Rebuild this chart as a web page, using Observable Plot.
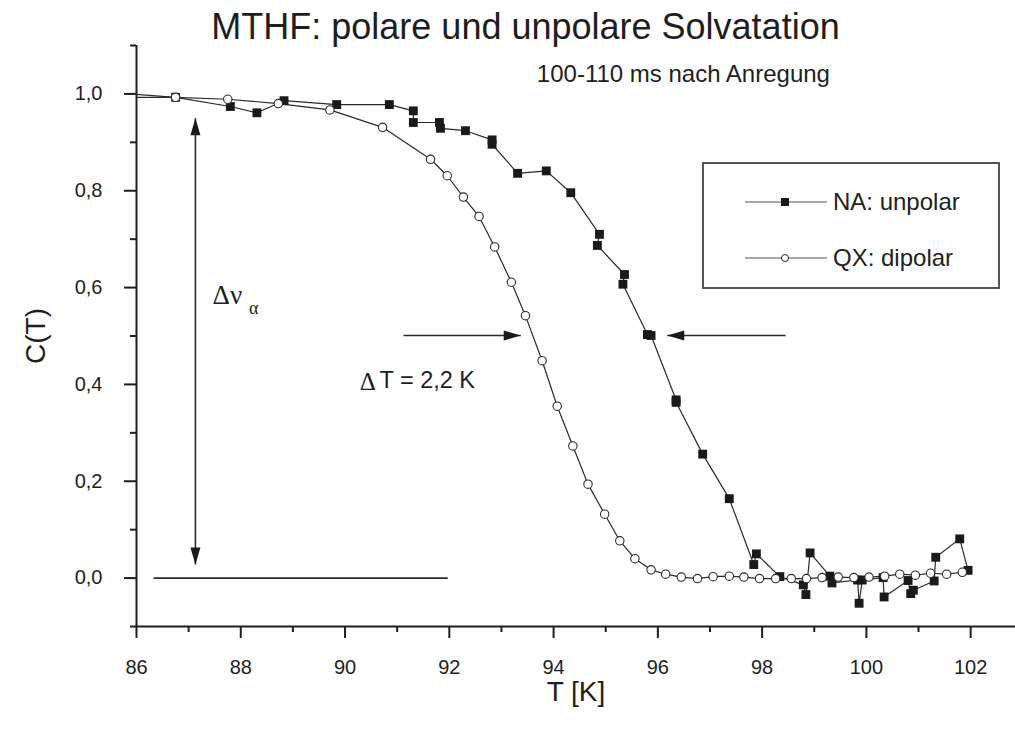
<!DOCTYPE html>
<html><head><meta charset="utf-8">
<script src="https://cdn.jsdelivr.net/npm/d3@7"></script>
<script src="https://cdn.jsdelivr.net/npm/@observablehq/plot@0.6"></script>
<style>
body{margin:0;background:#fff;}
#wrap{position:relative;width:1015px;height:732px;font-family:"Liberation Sans",Arial,sans-serif;color:#222;}
#legend{position:absolute;left:702px;top:162px;width:298px;height:127px;border:2px solid #555;box-sizing:border-box;background:#fff;}
.row{position:absolute;left:41px;height:30px;display:flex;align-items:center;font-size:24px;white-space:nowrap;}
.row svg{margin-right:6px;}
</style></head><body><div id="wrap"></div>
<script>
// NA: unpolar (filled squares) — temperature [K] and C(T)
const naT = [85.9, 86.75, 87.80, 88.31, 88.83, 89.84, 90.85, 91.31, 91.31, 91.81, 91.83, 92.31, 92.82, 92.82, 93.31, 93.86, 94.33, 94.88, 94.84, 95.36, 95.33, 95.80, 95.87, 96.35, 96.35, 96.86, 97.37, 97.84, 97.89, 98.34, 98.79, 98.84, 98.92, 99.30, 99.34, 99.83, 99.86, 99.92, 100.32, 100.34, 100.80, 100.85, 100.90, 101.30, 101.33, 101.79, 101.95];
const naC = [1.000, 0.993, 0.974, 0.961, 0.986, 0.978, 0.978, 0.965, 0.941, 0.941, 0.929, 0.924, 0.905, 0.896, 0.836, 0.841, 0.796, 0.710, 0.687, 0.627, 0.607, 0.503, 0.501, 0.368, 0.363, 0.256, 0.164, 0.028, 0.050, 0.003, -0.014, -0.034, 0.052, 0.004, -0.010, -0.004, -0.052, -0.004, 0.001, -0.039, -0.005, -0.032, -0.025, -0.006, 0.043, 0.081, 0.016];
// QX: dipolar (open circles)
const qxT = [85.9, 86.75, 87.75, 88.72, 89.71, 90.72, 91.64, 91.96, 92.27, 92.57, 92.87, 93.19, 93.46, 93.78, 94.07, 94.37, 94.66, 94.98, 95.27, 95.56, 95.87, 96.15, 96.45, 96.76, 97.06, 97.37, 97.65, 97.95, 98.26, 98.56, 98.85, 99.15, 99.46, 99.76, 100.05, 100.35, 100.64, 100.94, 101.23, 101.54, 101.84];
const qxC = [0.993, 0.993, 0.989, 0.980, 0.967, 0.931, 0.865, 0.831, 0.787, 0.747, 0.684, 0.611, 0.542, 0.449, 0.355, 0.273, 0.194, 0.132, 0.077, 0.040, 0.017, 0.008, 0.002, -0.001, 0.003, 0.004, 0.002, -0.001, -0.001, -0.001, -0.001, 0.001, 0.002, 0.001, 0.002, 0.004, 0.008, 0.006, 0.010, 0.008, 0.012];

// axis ticks
const xMajor = [86, 88, 90, 92, 94, 96, 98, 100, 102];
const xMinor = [87, 89, 91, 93, 95, 97, 99, 101];
const yMajor = [0.0, 0.2, 0.4, 0.6, 0.8, 1.0];
const yMinor = [-0.1, 0.1, 0.3, 0.5, 0.7, 0.9, 1.1];

// annotations (data units)
const shafts = [
  {x1: 87.13, y1: 0.950, x2: 87.13, y2: 0.028},
  {x1: 86.33, y1: 0.0, x2: 91.97, y2: 0.0},
  {x1: 91.12, y1: 0.501, x2: 93.37, y2: 0.501},
  {x1: 98.45, y1: 0.501, x2: 96.18, y2: 0.501}
];
const heads = [
  {x: 87.13, y: 0.950, a: 0},
  {x: 87.13, y: 0.028, a: 180},
  {x: 93.37, y: 0.501, a: 90},
  {x: 96.18, y: 0.501, a: -90}
];

const na = naT.map((T, i) => ({T, C: naC[i]}));
const qx = qxT.map((T, i) => ({T, C: qxC[i]}));

const headSymbol = {draw(ctx) { ctx.moveTo(0, 0); ctx.lineTo(5, 17); ctx.lineTo(-5, 17); ctx.closePath(); }};
const ink = "#1e1e1e";
const serif = "'Liberation Serif', 'DejaVu Serif', serif";
const fmt = d => d.toFixed(1).replace(".", ",");

const chart = Plot.plot({
  width: 1015, height: 732,
  marginLeft: 136, marginRight: 0, marginTop: 45, marginBottom: 106,
  x: {domain: [86, 102.86]},
  y: {domain: [-0.1, 1.1]},
  style: {fontFamily: "'Liberation Sans', Arial, sans-serif", fontSize: "20px", color: ink, background: "#fff"},
  marks: [
    Plot.axisX(xMajor, {tickSize: 12, tickPadding: 21, strokeWidth: 2, fontSize: 20, label: null, tickFormat: d => String(d)}),
    Plot.axisX(xMinor, {tickSize: 6, strokeWidth: 2, label: null, tickFormat: () => ""}),
    Plot.axisY(yMajor, {tickSize: 12, tickPadding: 22, strokeWidth: 2, fontSize: 20, label: null, tickFormat: fmt}),
    Plot.axisY(yMinor, {tickSize: 6, strokeWidth: 2, label: null, tickFormat: () => ""}),
    Plot.ruleY([-0.1], {stroke: ink, strokeWidth: 2}),
    Plot.ruleX([86], {stroke: ink, strokeWidth: 2}),
    Plot.link(shafts, {x1: "x1", y1: "y1", x2: "x2", y2: "y2", stroke: "#2a2a2a", strokeWidth: 1.6}),
    Plot.dot(heads, {x: "x", y: "y", rotate: "a", symbol: headSymbol, fill: "#1a1a1a", stroke: "none"}),
    Plot.line(na, {x: "T", y: "C", stroke: "#2a2a2a", strokeWidth: 1.2, clip: true}),
    Plot.line(qx, {x: "T", y: "C", stroke: "#2a2a2a", strokeWidth: 1.2, clip: true}),
    Plot.dot(na, {x: "T", y: "C", symbol: "square", r: 5, fill: "#1a1a1a", stroke: "none", clip: true}),
    Plot.dot(qx, {x: "T", y: "C", symbol: "circle", r: 4.2, fill: "#fff", stroke: "#2a2a2a", strokeWidth: 1.1, clip: true}),
    Plot.text(["MTHF: polare und unpolare Solvatation"], {frameAnchor: "top-left", dx: 389, dy: -18, textAnchor: "middle", lineAnchor: "middle", fontSize: 36, fill: ink}),
    Plot.text(["T [K]"], {frameAnchor: "bottom", dy: 66, textAnchor: "middle", lineAnchor: "middle", fontSize: 28, fill: ink}),
    Plot.text(["C(T)"], {frameAnchor: "left", dx: -100, rotate: -90, textAnchor: "middle", lineAnchor: "middle", fontSize: 28, fill: ink}),
    Plot.text(["100-110 ms nach Anregung"], {x: [96.49], y: [1.041], fontSize: 24, fill: ink}),
    Plot.text(["Δ"], {x: [90.28], y: [0.404], textAnchor: "start", fontSize: 25, fontFamily: serif, fill: ink}),
    Plot.text(["T = 2,2 K"], {x: [90.66], y: [0.408], textAnchor: "start", fontSize: 23.5, fill: ink}),
    Plot.text(["Δν"], {x: [87.46], y: [0.584], textAnchor: "start", fontSize: 27, fontFamily: serif, fill: ink}),
    Plot.text(["α"], {x: [88.16], y: [0.558], textAnchor: "start", fontSize: 18, fontFamily: serif, fill: ink})
  ]
});

const wrap = document.getElementById("wrap");
wrap.appendChild(chart);

// legend
const legend = document.createElement("div");
legend.id = "legend";
const entries = [
  {label: "NA: unpolar", sym: "square", top: 23},
  {label: "QX: dipolar", sym: "circle", top: 79}
];
for (const e of entries) {
  const row = document.createElement("div");
  row.className = "row";
  row.style.top = e.top + "px";
  const mk = e.sym === "square"
    ? '<rect x="36" y="10" width="8" height="8" fill="#1a1a1a"/>'
    : '<circle cx="40" cy="14" r="3.5" fill="#fff" stroke="#2a2a2a" stroke-width="1"/>';
  row.innerHTML = '<svg width="82" height="28"><line x1="0" x2="82" y1="14" y2="14" stroke="#555" stroke-width="1.2"/>' + mk + '</svg><span>' + e.label + '</span>';
  legend.appendChild(row);
}
wrap.appendChild(legend);
</script>
</body></html>
